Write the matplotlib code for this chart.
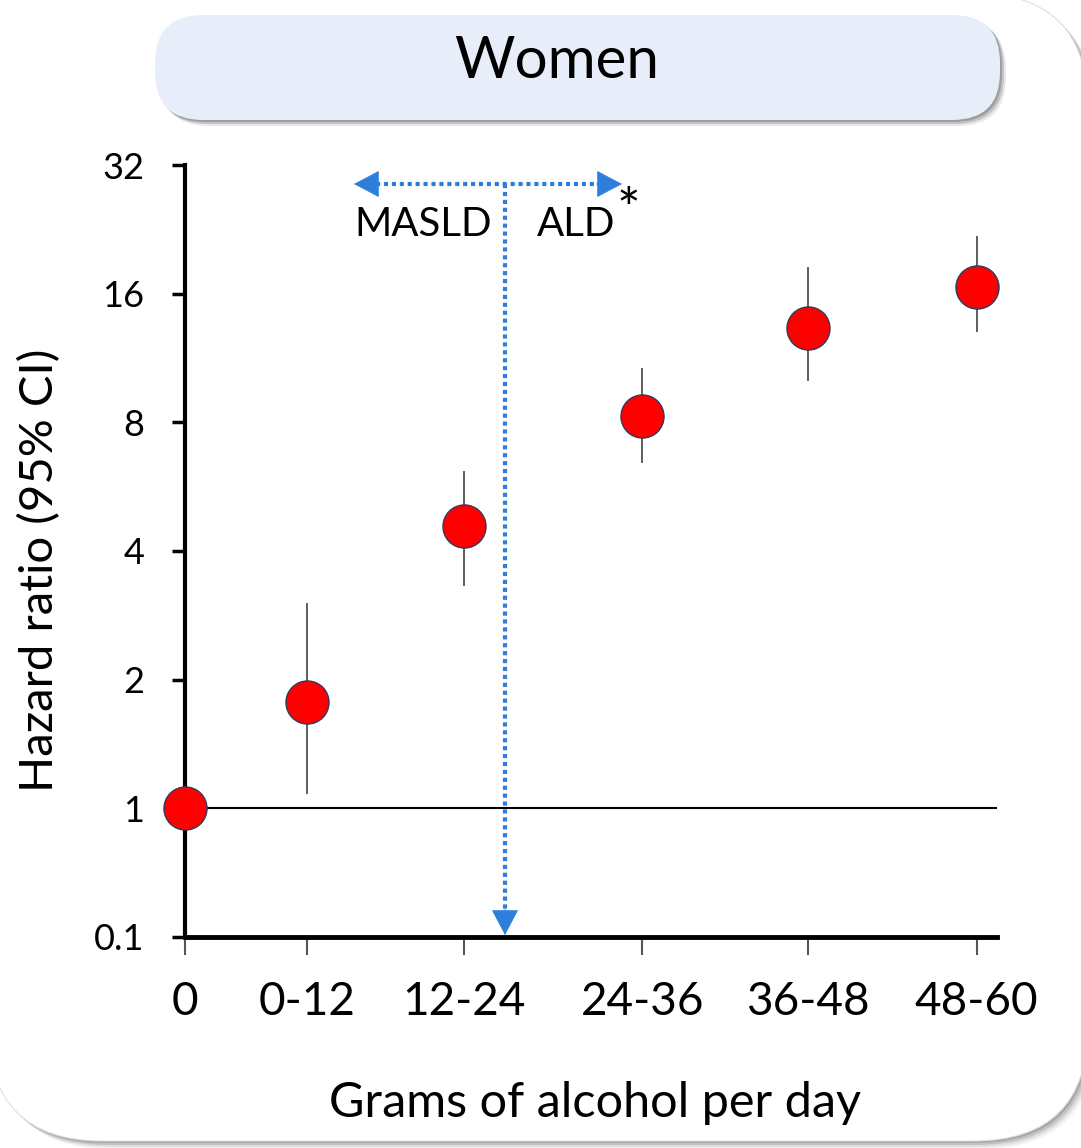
import numpy as np
import matplotlib
matplotlib.use("Agg")
import matplotlib.pyplot as plt
from matplotlib.patches import FancyBboxPatch, Rectangle

plt.rcParams['font.family'] = ['Lato', 'DejaVu Sans']

# ---- data ----
categories = ['0', '0-12', '12-24', '24-36', '36-48', '48-60']
x_pos = [0, 9.0, 20.6, 33.8, 46.0, 58.5]
hr = [1.0, 1.77, 4.57, 8.26, 13.3, 16.6]
ci_low = [1.0, 1.08, 3.31, 6.41, 10.0, 13.0]
ci_high = [1.0, 3.03, 6.14, 10.7, 18.5, 21.8]
y_ticks = [0.1, 1, 2, 4, 8, 16, 32]
y_ticklabels = ['0.1', '1', '2', '4', '8', '16', '32']

W, H = 1081, 1148
fig = plt.figure(figsize=(W / 100, H / 100), dpi=100)
fig.patch.set_facecolor('white')

def fx(px): return px / W
def fy(py): return 1 - py / H

# background axes in pixel coordinates for decorations
bg = fig.add_axes([0, 0, 1, 1], zorder=0)
bg.set_xlim(0, W)
bg.set_ylim(H, 0)
bg.axis('off')

def rbox(x0, y0, x1, y1, r, **kw):
    p = FancyBboxPatch((x0 + r, y0 + r), (x1 - x0) - 2 * r, (y1 - y0) - 2 * r,
                       boxstyle=f"round,pad={r},rounding_size={r}", **kw)
    bg.add_patch(p)
    return p

# outer frame with soft shadow
for off, a in [(8, 0.08), (6, 0.15), (4, 0.25), (2, 0.35)]:
    rbox(-12 + off, -7 + off, 1088 + off, 1141 + off, 115,
         facecolor='#707070', edgecolor='none', alpha=a)
rbox(-12, -7, 1088, 1141, 115, facecolor='white', edgecolor='#e0e0e0', linewidth=0.8)
bg.add_patch(Rectangle((0, 0), 200, 200, facecolor='white', edgecolor='none'))

# title box
for off, a in [(6, 0.15), (4, 0.3), (2, 0.45)]:
    rbox(155 + off, 15 + off, 1000 + off, 120 + off, 48,
         facecolor='#707070', edgecolor='none', alpha=a)
rbox(155, 15, 1000, 120, 48, facecolor='#E8EEF9', edgecolor='none')
bg.text(557, 62, 'Women', ha='center', va='center', fontsize=42, color='black')

# main axes
ax = fig.add_axes([fx(185), fy(937), fx(997) - fx(185), (937 - 165) / H], zorder=2)
ax.set_facecolor('none')

def fwd(v):
    v = np.asarray(v, dtype=float)
    return np.where(v >= 1, np.log2(np.maximum(v, 1e-12)), (v - 1) / 0.9)

def inv(p):
    p = np.asarray(p, dtype=float)
    return np.where(p >= 0, np.power(2.0, p), 1 + 0.9 * p)

ax.set_yscale('function', functions=(fwd, inv))
ax.set_ylim(0.1, 32)
ax.set_xlim(0, 60)

ax.axhline(1, color='black', lw=1.5, zorder=1)

yerr = [np.array(hr) - np.array(ci_low), np.array(ci_high) - np.array(hr)]
ax.errorbar(x_pos, hr, yerr=yerr, fmt='none', ecolor='#333333', elinewidth=1.1,
            capsize=0, zorder=2)
ax.plot(x_pos, hr, 'o', color='#FF0000', markersize=31, markeredgecolor='#2F3B5C',
        markeredgewidth=1.0, zorder=5, clip_on=False)

ax.set_yticks(y_ticks)
ax.set_yticklabels(y_ticklabels)
ax.yaxis.set_minor_locator(matplotlib.ticker.NullLocator())
ax.set_xticks(x_pos)
ax.set_xticklabels(categories)

for s in ['top', 'right']:
    ax.spines[s].set_visible(False)
ax.spines['left'].set_linewidth(3)
ax.spines['bottom'].set_linewidth(3.5)
ax.tick_params(axis='y', direction='out', length=9.5, width=2.5, color='black',
               pad=20, labelsize=26)
ax.tick_params(axis='x', direction='out', length=13, width=1.5, color='#555555',
               pad=19, labelsize=33)

bg.text(40, 570, 'Hazard ratio (95% CI)', rotation=90, ha='center', va='center',
        fontsize=34)
bg.text(595, 1103, 'Grams of alcohol per day', ha='center', va='center', fontsize=35)

# dotted arrows on a top overlay in pixel coordinates
blue = '#2E7FD9'
top = fig.add_axes([0, 0, 1, 1], zorder=3)
top.set_xlim(0, W)
top.set_ylim(H, 0)
top.axis('off')

ytop = 184
xc = 505
dot_kw = dict(color=blue, lw=3.0, linestyle=(0, (1.0, 0.9)),
              dash_capstyle='butt')
top.plot([376, 598], [ytop, ytop], **dot_kw)
top.plot([xc, xc], [ytop, 912], **dot_kw)
head_kw = dict(arrowstyle='-|>,head_length=1.7,head_width=0.9', color=blue,
               lw=0.5, shrinkA=0, shrinkB=0)
top.annotate('', xy=(354, ytop), xytext=(380, ytop), arrowprops=head_kw)
top.annotate('', xy=(622, ytop), xytext=(596, ytop), arrowprops=head_kw)
top.annotate('', xy=(xc, 935), xytext=(xc, 909), arrowprops=head_kw)

bg.text(423, 224, 'MASLD', ha='center', va='center', fontsize=29)
bg.text(576, 224, 'ALD', ha='center', va='center', fontsize=29)
bg.text(628, 212, '*', ha='center', va='center', fontsize=40)

fig.savefig('out.png', dpi=100, facecolor='white')
